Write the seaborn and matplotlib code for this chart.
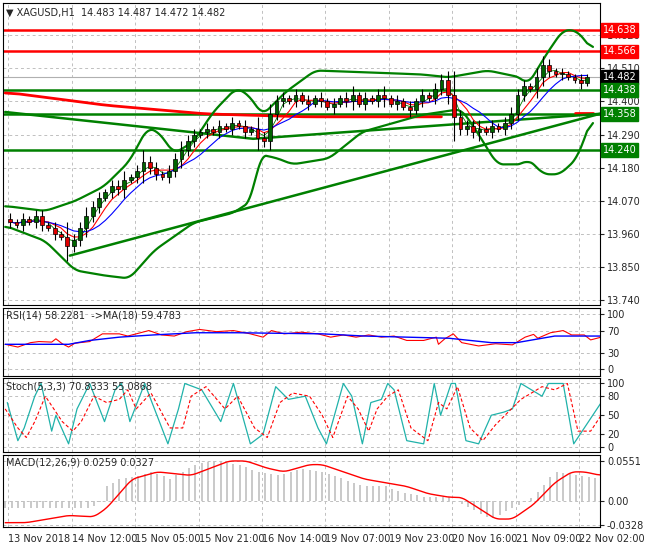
import numpy as np
import pandas as pd
import matplotlib
matplotlib.use("Agg")
import matplotlib.pyplot as plt
import seaborn as sns

sns.set_style("white")
plt.rcParams["font.family"] = "DejaVu Sans"
plt.rcParams["font.size"] = 7

# ---- price data (2h candles, bar index 0..91) ----
closes = [14.00, 13.99, 14.01, 14.00, 14.02, 13.99, 13.98,
          13.96, 13.95, 13.92, 13.94,
          13.98, 14.02, 14.05, 14.08, 14.10,
          14.12, 14.11, 14.14, 14.15, 14.17,
          14.20, 14.18, 14.16, 14.15, 14.17,
          14.21, 14.24, 14.27, 14.29, 14.30,
          14.31, 14.30, 14.32, 14.31, 14.33, 14.32, 14.30, 14.31,
          14.28, 14.27, 14.36,
          14.40, 14.41, 14.40, 14.42, 14.40,
          14.39, 14.41, 14.40, 14.38, 14.39, 14.41,
          14.40, 14.42, 14.39, 14.41, 14.40, 14.42, 14.41, 14.39,
          14.40, 14.38, 14.37, 14.40, 14.42, 14.41,
          14.44, 14.47, 14.42,
          14.35, 14.31, 14.32, 14.30, 14.31,
          14.30, 14.32, 14.31, 14.33, 14.36,
          14.42, 14.45, 14.44, 14.48, 14.52,
          14.50, 14.49, 14.49, 14.48, 14.47, 14.46, 14.482]
first_open = 14.01
wick = [0.02, 0.01, 0.02, 0.01, 0.02, 0.02, 0.01, 0.02, 0.01, 0.05, 0.02,
        0.02, 0.03, 0.02, 0.02, 0.01, 0.02, 0.02, 0.03, 0.01, 0.02, 0.04,
        0.02, 0.02, 0.01, 0.02, 0.02, 0.03, 0.02, 0.02, 0.01, 0.02, 0.01,
        0.02, 0.01, 0.02, 0.01, 0.02, 0.01, 0.04, 0.02, 0.03, 0.02, 0.02,
        0.01, 0.02, 0.01, 0.02, 0.01, 0.02, 0.01, 0.02, 0.01, 0.02, 0.03,
        0.01, 0.02, 0.01, 0.02, 0.03, 0.01, 0.02, 0.01, 0.02, 0.01, 0.02,
        0.01, 0.02, 0.02, 0.03, 0.08, 0.02, 0.02, 0.02, 0.03, 0.01, 0.02,
        0.01, 0.02, 0.02, 0.02, 0.02, 0.01, 0.03, 0.03, 0.02, 0.01, 0.02,
        0.01, 0.01, 0.02, 0.01]

# Bollinger bands (bar index, price)
bb_up_x = [-0.8, 5.5, 10.2, 14.8, 18.8, 21.6, 23.4, 25.8, 28.9, 32, 35.6, 37.5, 39.8,
           43.4, 48.1, 55.5, 64.8, 69.1, 75.3, 80.5, 81.6, 84.7, 87.2, 89.4, 91.9]
bb_up = [14.053, 14.036, 14.069, 14.118, 14.201, 14.312, 14.299, 14.227, 14.266,
         14.365, 14.444, 14.424, 14.355, 14.431, 14.503, 14.497, 14.490, 14.480,
         14.503, 14.480, 14.454, 14.562, 14.638, 14.635, 14.569]
bb_lo_x = [-0.8, 5.5, 10.2, 14.8, 18.8, 22.7, 28.9, 35.2, 38, 39.4, 42.2, 44.5, 50.3,
           55.5, 64.8, 71.1, 73.1, 76.8, 80.9, 81.6, 84.1, 86.7, 89.4, 91.9]
bb_lo = [13.987, 13.937, 13.839, 13.822, 13.812, 13.905, 13.997, 14.030, 14.069,
         14.224, 14.211, 14.191, 14.211, 14.299, 14.355, 14.375, 14.316, 14.191,
         14.191, 14.211, 14.158, 14.158, 14.211, 14.355]

ma200_x = [-0.8, 14.8, 30.5, 46.1, 68]
ma200 = [14.431, 14.388, 14.359, 14.349, 14.349]

trend1_x = [-0.8, 38.3, 93]
trend1 = [14.365, 14.276, 14.359]
trend2_x = [9.4, 93]
trend2 = [13.888, 14.359]

red_levels = [14.638, 14.566]
green_levels = [14.438, 14.358, 14.240]
last_price = 14.482
price_ticks = [14.620, 14.510, 14.400, 14.290, 14.180, 14.070, 13.960, 13.850, 13.740]

# ---- indicators (positions in sub-window pixel units, converted below) ----
rsi_x = [0, 30, 60, 80, 110, 120, 135, 150, 165, 200, 230, 270, 290, 320, 340, 370,
         400, 430, 460, 500, 540, 580, 610, 630, 660, 700, 740, 770, 800, 830, 860,
         890, 920, 950, 990, 1020, 1025, 1040, 1060, 1080, 1120, 1160, 1200, 1230,
         1250, 1260, 1290, 1320, 1340, 1370, 1385, 1410]
rsi = [45, 40, 48, 50, 49, 55, 46, 40, 47, 50, 64, 64, 60, 66, 70, 62, 60, 68, 72,
       68, 70, 64, 58, 70, 64, 67, 64, 58, 62, 58, 62, 58, 60, 52, 52, 58, 45, 55,
       64, 48, 42, 46, 44, 58, 63, 56, 66, 70, 62, 62, 53, 58]
rsi_ma_x = [0, 150, 200, 270, 350, 450, 550, 650, 750, 850, 950, 1050, 1150, 1210, 1300, 1410]
rsi_ma = [45, 45, 52, 58, 62, 66, 66, 65, 64, 60, 58, 56, 48, 48, 60, 60]

st_x = [5, 30, 45, 70, 85, 110, 120, 150, 170, 200, 235, 260, 275, 295, 330, 385,
        410, 425, 465, 510, 540, 580, 610, 640, 670, 710, 740, 760, 800, 820, 845,
        865, 890, 905, 920, 950, 990, 1015, 1030, 1055, 1065, 1090, 1120, 1150,
        1180, 1200, 1220, 1270, 1285, 1320, 1345, 1375, 1410]
st_k = [70, 10, 30, 80, 100, 25, 50, 5, 60, 100, 40, 90, 100, 40, 100, 5, 60, 100,
        90, 40, 100, 5, 20, 95, 75, 80, 30, 5, 100, 80, 5, 70, 75, 100, 90, 10, 5,
        100, 50, 100, 100, 10, 5, 50, 55, 60, 100, 80, 100, 100, 5, 35, 70]
sd_x = [0, 30, 50, 70, 95, 115, 135, 160, 180, 210, 240, 270, 290, 310, 345, 390,
        420, 440, 475, 520, 550, 590, 620, 650, 680, 720, 750, 775, 810, 835, 860,
        880, 905, 930, 960, 1000, 1025, 1045, 1070, 1100, 1130, 1160, 1190, 1220,
        1270, 1300, 1330, 1355, 1385, 1410]
st_d = [60, 30, 15, 40, 80, 60, 40, 25, 40, 80, 70, 75, 90, 60, 85, 30, 30, 80, 95,
        60, 80, 30, 15, 70, 85, 80, 50, 15, 80, 60, 25, 60, 80, 90, 30, 10, 70, 60,
        95, 30, 10, 35, 55, 75, 95, 90, 100, 25, 25, 50]

macd_hx = [0, 100, 200, 230, 240, 270, 320, 350, 390, 450, 500, 550, 600, 650, 700,
           750, 800, 850, 900, 950, 1000, 1050, 1100, 1150, 1200, 1250, 1300, 1350, 1410]
macd_h = [-0.01, -0.01, -0.01, 0.0, 0.02, 0.03, 0.035, 0.04, 0.03, 0.05, 0.055,
          0.05, 0.04, 0.035, 0.045, 0.04, 0.03, 0.02, 0.02, 0.01, 0.005, 0.005,
          -0.01, -0.025, -0.01, 0.005, 0.04, 0.035, 0.03]
macd_sx = [0, 50, 100, 150, 210, 240, 300, 360, 440, 530, 570, 620, 660, 720, 750,
           800, 850, 900, 950, 1000, 1050, 1080, 1120, 1160, 1200, 1250, 1300, 1340,
           1370, 1410]
macd_s = [-0.03, -0.03, -0.025, -0.02, -0.022, -0.01, 0.03, 0.04, 0.035, 0.055,
          0.055, 0.045, 0.04, 0.05, 0.05, 0.04, 0.03, 0.025, 0.02, 0.01, 0.005,
          0.005, -0.01, -0.025, -0.025, -0.005, 0.025, 0.04, 0.04, 0.035]

time_labels = ["13 Nov 2018", "14 Nov 12:00", "15 Nov 05:00", "15 Nov 21:00",
               "16 Nov 14:00", "19 Nov 07:00", "19 Nov 23:00", "20 Nov 16:00",
               "21 Nov 09:00", "22 Nov 02:00"]


def sub_pos(v):
    return np.array(v, dtype=float) / 15.0 - 0.8


def smooth(xs, ys, win=9):
    # dense interpolation, then a centred rolling mean so the band curves round off
    grid = np.linspace(xs[0], xs[-1], 400)
    vals = pd.Series(np.interp(grid, xs, ys)).rolling(win, center=True, min_periods=1).mean()
    return grid, vals.to_numpy()


GREEN = "#008000"
RED = "#ff0000"
GRID = dict(color="#c0c0c0", linestyle=(0, (3, 3)), linewidth=0.7)

fig = plt.figure(figsize=(6.6, 5.5), dpi=100)
L, W = 0.004, 0.905
ax = fig.add_axes([L, 0.4455, W, 0.549])
ax_rsi = fig.add_axes([L, 0.316, W, 0.124])
ax_st = fig.add_axes([L, 0.178, W, 0.134])
ax_m = fig.add_axes([L, 0.042, W, 0.131])
axes = [ax, ax_rsi, ax_st, ax_m]
XL = (-1.2, 93.0)
tick_pos = np.arange(10) * 10.0 - 0.3
for a in axes:
    a.set_xlim(*XL)
    a.set_xticks(tick_pos)
    a.xaxis.grid(True, **GRID)
    a.yaxis.grid(True, **GRID)
    a.set_axisbelow(True)
    a.yaxis.tick_right()
    a.tick_params(axis="y", length=3, pad=2, labelsize=7)
    a.tick_params(axis="x", length=3, labelbottom=False)
    for s in a.spines.values():
        s.set_color("black")
        s.set_linewidth(0.8)

# ---- main price panel ----
df = pd.DataFrame({"i": np.arange(len(closes)), "close": closes})
df["open"] = [first_open] + closes[:-1]
df["high"] = df[["open", "close"]].max(axis=1) + np.array(wick)
df["low"] = df[["open", "close"]].min(axis=1) - np.array(wick)
df["ma_fast"] = df["close"].rolling(3, min_periods=1).mean()
df["ma_mid"] = df["close"].rolling(5, min_periods=1).mean()
df["ma_slow"] = df["close"].rolling(8, min_periods=1).mean()

ax.set_ylim(13.724, 14.727)
ax.set_yticks(price_ticks)
ax.set_yticklabels([f"{t:.3f}" for t in price_ticks])

for lv in red_levels:
    ax.axhline(lv, color=RED, linewidth=1.8, zorder=2)
for lv in green_levels:
    ax.axhline(lv, color=GREEN, linewidth=1.8, zorder=2)
ax.axhline(last_price, color="#b0b0b0", linewidth=0.8, zorder=2)

mx, my = smooth(ma200_x, ma200, 25)
sns.lineplot(x=mx, y=my, ax=ax, color=RED, linewidth=2, zorder=3)
sns.lineplot(x=[89, 91.9], y=[14.362, 14.362], ax=ax, color=RED, linewidth=2, zorder=3)
sns.lineplot(x=trend1_x, y=trend1, ax=ax, color=GREEN, linewidth=1.8, zorder=3)
sns.lineplot(x=trend2_x, y=trend2, ax=ax, color=GREEN, linewidth=1.8, zorder=3)
ux, uy = smooth(bb_up_x, bb_up)
lx, ly = smooth(bb_lo_x, bb_lo)
sns.lineplot(x=ux, y=uy, ax=ax, color=GREEN, linewidth=1.6, zorder=3)
sns.lineplot(x=lx, y=ly, ax=ax, color=GREEN, linewidth=1.6, zorder=3)
sns.lineplot(data=df, x="i", y="ma_fast", ax=ax, color=GREEN, linewidth=0.6, zorder=4)
sns.lineplot(data=df, x="i", y="ma_mid", ax=ax, color=RED, linewidth=0.8, zorder=4)
sns.lineplot(data=df, x="i", y="ma_slow", ax=ax, color="#0000ff", linewidth=0.8, zorder=4)

ax.vlines(df["i"], df["low"], df["high"], color="black", linewidth=0.8, zorder=5)
up = df["close"] >= df["open"]
body = (df["close"] - df["open"]).abs().clip(lower=0.003)
bottom = df[["open", "close"]].min(axis=1)
ax.bar(df["i"][up], body[up], bottom=bottom[up], width=0.6, color="#006400",
       edgecolor="black", linewidth=0.5, zorder=6)
ax.bar(df["i"][~up], body[~up], bottom=bottom[~up], width=0.6, color="#e00000",
       edgecolor="black", linewidth=0.5, zorder=6)


def level_tag(a, y, text, bg):
    a.annotate(text, xy=(1.0, y), xycoords=("axes fraction", "data"),
               xytext=(2, 0), textcoords="offset points", va="center", ha="left",
               color="white", fontsize=7, zorder=10,
               bbox=dict(boxstyle="square,pad=0.2", fc=bg, ec=bg),
               annotation_clip=False)


for lv in red_levels:
    level_tag(ax, lv, f"{lv:.3f}", RED)
level_tag(ax, last_price, f"{last_price:.3f}", "black")
for lv in green_levels:
    level_tag(ax, lv, f"{lv:.3f}", GREEN)

ax.text(0.005, 0.985, "\u25BC XAGUSD,H1  14.483 14.487 14.472 14.482",
        transform=ax.transAxes, va="top", ha="left", fontsize=7)

# ---- RSI ----
sns.lineplot(x=sub_pos(rsi_x), y=rsi, ax=ax_rsi, color=RED, linewidth=0.8)
sns.lineplot(x=sub_pos(rsi_ma_x), y=rsi_ma, ax=ax_rsi, color="#0000ff", linewidth=1.0)
ax_rsi.set_ylim(-13, 111)
ax_rsi.set_yticks([100, 70, 30, 0])
ax_rsi.text(0.005, 0.96, "RSI(14) 58.2281  ->MA(18) 59.4783",
            transform=ax_rsi.transAxes, va="top", fontsize=7)

# ---- Stochastic ----
sns.lineplot(x=sub_pos(st_x), y=st_k, ax=ax_st, color="#20b2aa", linewidth=0.9)
sns.lineplot(x=sub_pos(sd_x), y=st_d, ax=ax_st, color=RED, linewidth=0.8,
             linestyle=(0, (3, 2)))
ax_st.set_ylim(-8, 108)
ax_st.set_yticks([100, 80, 50, 20, 0])
ax_st.text(0.005, 0.96, "Stoch(5,3,3) 70.8333 55.0868",
           transform=ax_st.transAxes, va="top", fontsize=7)

# ---- MACD ----
mh = pd.DataFrame({"x": np.arange(0, 1411, 15.0)})
mh["h"] = np.interp(mh["x"], macd_hx, macd_h)
ax_m.vlines(sub_pos(mh["x"]), 0, mh["h"], color="#c0c0c0", linewidth=1.2)
mx2, my2 = smooth(macd_sx, macd_s, 7)
sns.lineplot(x=sub_pos(mx2), y=my2, ax=ax_m, color=RED, linewidth=1.0)
ax_m.set_ylim(-0.0358, 0.0634)
ax_m.set_yticks([0.0551, 0.0, -0.0328])
ax_m.set_yticklabels(["0.0551", "0.00", "-0.0328"])
ax_m.text(0.005, 0.96, "MACD(12,26,9) 0.0259 0.0327",
          transform=ax_m.transAxes, va="top", fontsize=7)
ax_m.tick_params(axis="x", labelbottom=True, labelsize=7, pad=2)
ax_m.set_xticklabels(time_labels, ha="left")

for a in axes:
    a.set_xlabel("")
    a.set_ylabel("")
    if a.get_legend():
        a.get_legend().remove()

fig.savefig("out.png", dpi=100)
